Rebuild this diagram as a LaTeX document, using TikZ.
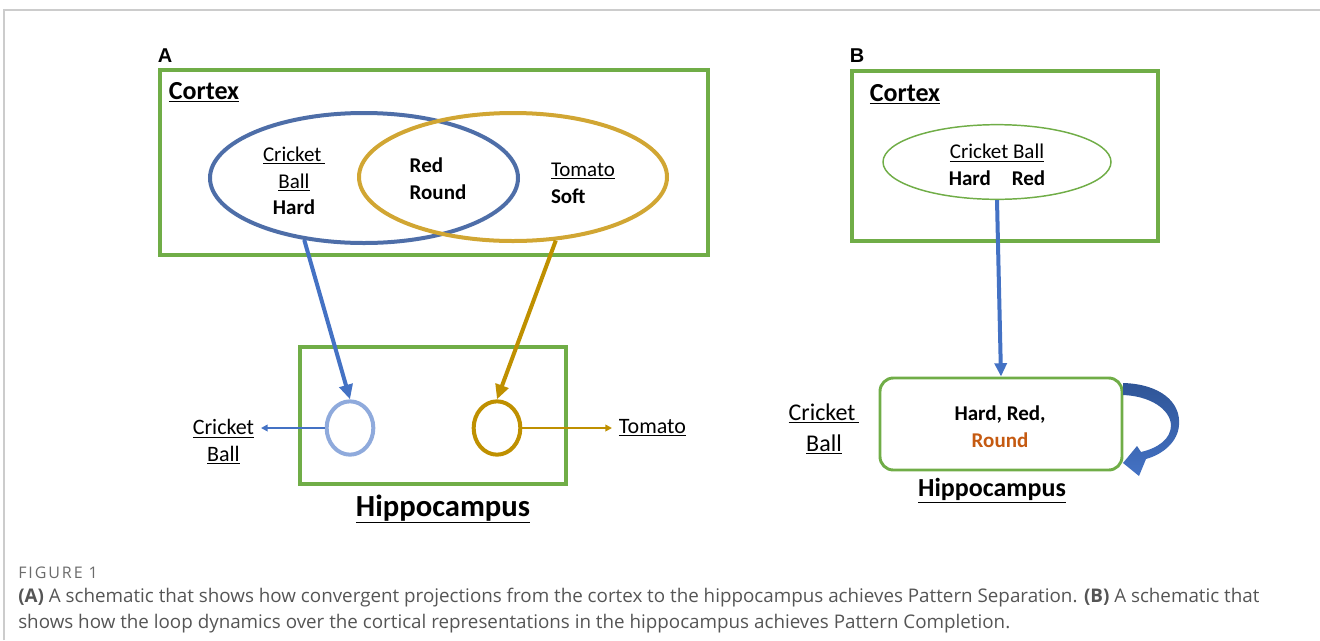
\documentclass[tikz,border=0pt]{standalone}
\usepackage{fontspec}
\setmainfont{Carlito}
\newfontfamily\panelfont{Liberation Sans}
\newfontfamily\capfont{Open Sans}
\newfontfamily\capwide{Open Sans}[LetterSpace=12]
\usetikzlibrary{arrows.meta,shapes.geometric,fit,calc}

\definecolor{boxgreen}{HTML}{70AD47}
\definecolor{ellblue}{HTML}{4E6EA8}
\definecolor{ellgold}{HTML}{D1A633}
\definecolor{arrblue}{HTML}{4472C4}
\definecolor{loopdark}{HTML}{2F5597}
\definecolor{arrgold}{HTML}{BF9000}
\definecolor{lightblue}{HTML}{8FAADC}
\definecolor{roundorange}{HTML}{C55A11}
\definecolor{captext}{HTML}{555555}
\definecolor{capgray}{HTML}{6B6B6B}
\definecolor{framegray}{HTML}{CCCCCC}

\newcommand{\fsz}[2]{\fontsize{#1}{#2}\selectfont}

\tikzset{
  region/.style={draw=boxgreen, line width=3pt, inner sep=0pt},
  oval/.style={ellipse, line width=3pt, inner sep=0pt},
  cell/.style={ellipse, line width=3pt, inner sep=0pt,
               minimum width=35pt, minimum height=40pt},
  word/.style={inner sep=0pt, align=center, text=black},
  lbl/.style={word, font=\fsz{15.75}{20}},
  proj/.style={line width=3pt, -{Triangle[length=11pt,width=10pt]}},
  readout/.style={line width=1.4pt, -{Triangle[length=5pt,width=5pt]}},
  panel/.style={inner sep=0pt, font=\panelfont\bfseries\fsz{15}{17}},
  captionline/.style={anchor=west, inner sep=0pt, text=captext, font=\capfont\fsz{14.1}{16}},
}

\begin{document}
\begin{tikzpicture}[x=0.75pt, y=-0.75pt]
\useasboundingbox (0,0) rectangle (1320,640);

% page frame
\draw[framegray, line width=1pt] (4,640) -- (4,10) -- (1320,10);

% ---------------- Panel A ----------------
\node[panel] (labA) at (165,56) {A};
\node[region, fit={(160,70) (708,255)}] (ctxA) {};
\node[word, font=\bfseries\fsz{19.5}{22}] (ctxAt) at (204,92) {\underline{Cortex}};

\node[oval, draw=ellblue, minimum width=231pt, minimum height=97.5pt] (ballA) at (364,178) {};
\node[oval, draw=ellgold, minimum width=231pt, minimum height=96pt] (tomA) at (513,177) {};

\node[lbl] (ballAt) at (294,181) {\underline{Cricket\,}\\\underline{Ball}\\\textbf{Hard}};
\node[lbl, align=left, font=\bfseries\fsz{15.75}{20}] (sharedAt) at (438,179) {Red\\Round};
\node[lbl, align=left] (tomAt) at (583,183) {\underline{Tomato}\\\textbf{Soft}};

\node[region, fit={(300,347) (566,484)}] (hipA) {};
\node[cell, draw=lightblue] (cellBall) at (350,428) {};
\node[cell, draw=arrgold] (cellTom) at (497,428) {};

\draw[proj, arrblue] (ballA.226) -- (cellBall.north);
\draw[proj, arrgold] (tomA.304) -- (cellTom.north);

\node[lbl, anchor=east, inner xsep=5pt, font=\fsz{16.5}{20}] (outBall) at (261,442) {\underline{Cricket}\\\underline{Ball}};
\node[lbl, anchor=west, inner xsep=5pt, font=\fsz{16.5}{20}] (outTom) at (612,428) {\underline{Tomato}};
\draw[readout, arrblue] (cellBall.west) -- (cellBall.west -| outBall.east);
\draw[readout, arrgold] (cellTom.east) -- (outTom.west);

\node[word, font=\bfseries\fsz{23}{26}] (hipAt) at (443,509) {\underline{Hippocampus}};

% ---------------- Panel B ----------------
\node[panel] (labB) at (857,56) {B};
\node[region, fit={(852,71) (1158,241)}] (ctxB) {};
\node[word, font=\bfseries\fsz{19.5}{22}] (ctxBt) at (905,94) {\underline{Cortex}};

\node[ellipse, draw=boxgreen, line width=1.1pt, inner sep=0pt,
      minimum width=171pt, minimum height=56pt] (ballB) at (997,162) {};
\node[lbl] (ballBt) at (997,165) {\underline{Cricket Ball}\\\textbf{Hard\quad Red}};

\node[draw=boxgreen, line width=2.2pt, rounded corners=10pt, inner sep=0pt,
      fit={(880,378) (1122,470)}] (hipB) {};
\node[lbl, font=\bfseries\fsz{15.75}{20}] (hipBt) at (1000,427)
  {Hard, Red,\\\textcolor{roundorange}{Round}};

\draw[arrblue, line width=3pt, -{Triangle[length=10pt,width=9pt]}] (ballB.south) -- (hipB.north);

\node[word, font=\fsz{18}{23.5}] (cueB) at (824,429) {\underline{Cricket\,}\\\underline{Ball}};
\node[word, font=\bfseries\fsz{19.5}{22}] (hipBl) at (992,491) {\underline{Hippocampus}};

% recurrent loop on the hippocampus
\shade[top color=loopdark, bottom color=arrblue]
  (1123,383) .. controls (1160,384) and (1181,402) .. (1179,425)
  .. controls (1178,441) and (1164,454) .. (1146,459)
  -- (1139,476) -- (1123,463) -- (1137,446) -- (1141,452)
  .. controls (1158,448) and (1171,439) .. (1171,425)
  .. controls (1170,409) and (1150,396) .. (1123,395) -- cycle;

% ---------------- Caption ----------------
\node[anchor=west, inner sep=0pt, text=capgray, font=\capwide\fsz{12}{14}] (figno) at (18,573) {FIGURE 1};
\node[captionline] (cap1) at (18,598)
  {\textbf{(A)} A schematic that shows how convergent projections from the cortex to the hippocampus achieves Pattern Separation. \textbf{(B)} A schematic that};
\node[captionline] (cap2) at (18,624)
  {shows how the loop dynamics over the cortical representations in the hippocampus achieves Pattern Completion.};
\end{tikzpicture}
\end{document}
